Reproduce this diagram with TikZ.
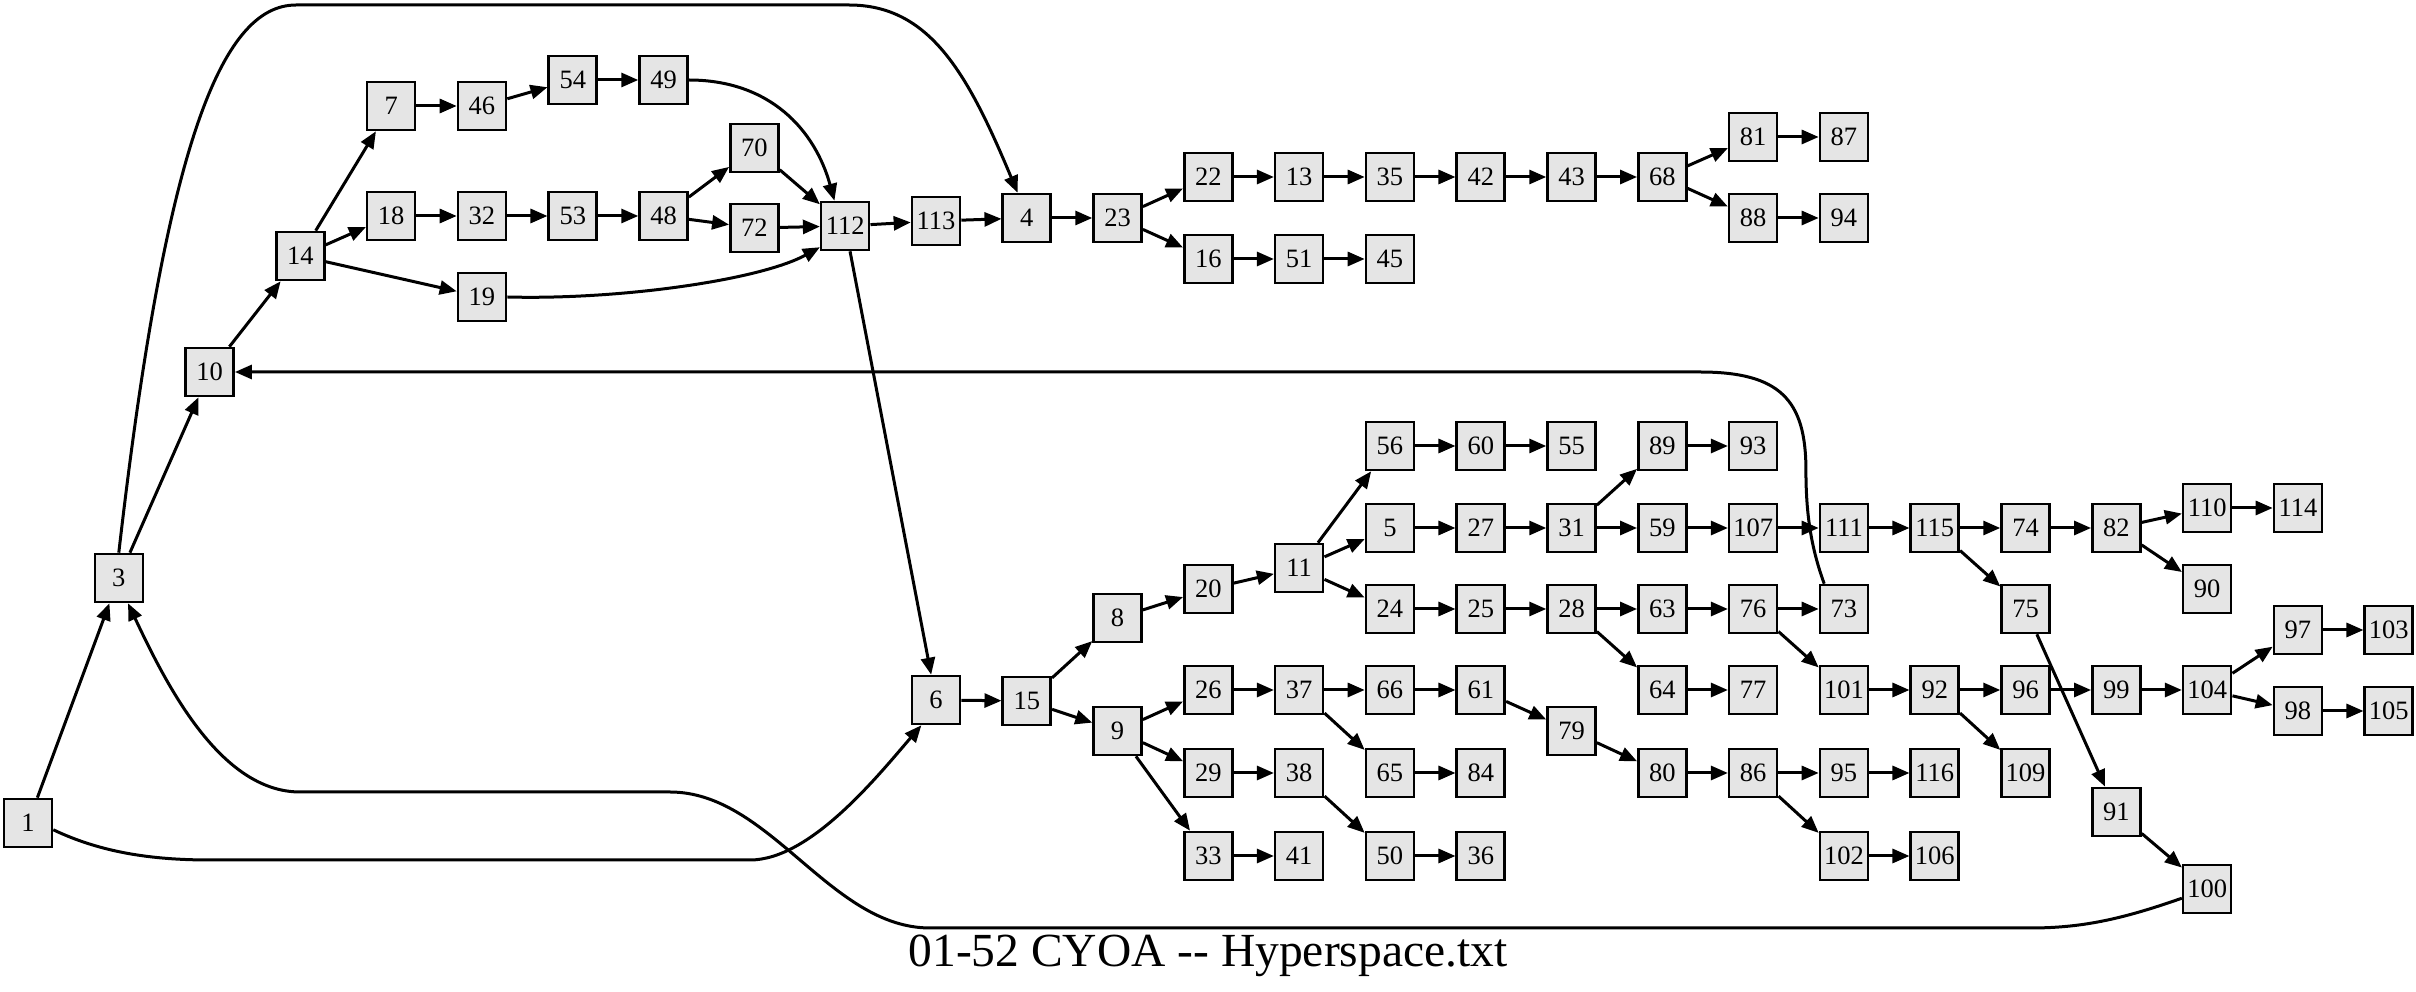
\documentclass[tikz,border=0pt]{standalone}
\usepackage{fontspec}
\setmainfont{Liberation Serif}
\usetikzlibrary{arrows.meta}
\definecolor{pgfill}{HTML}{E5E5E5}
\tikzset{
  every picture/.style={line width=3pt},
  pg/.style={draw=black, fill=pgfill, line width=2.6pt, minimum size=48pt, inner sep=0pt, font=\fontsize{26.5}{28}\selectfont},
  arrow/.style={-{Triangle[length=17pt, width=14pt]}, draw=black, line width=3pt},
  title/.style={font=\fontsize{47.5}{50}\selectfont},
}

\begin{document}
\begin{tikzpicture}[x=90.8pt, y=-1pt]
  \useasboundingbox (-0.3084,0) rectangle (26.3,992);
  \foreach \n/\r/\y in {1/0/823, 3/1/578, 10/2/372, 14/3/256, 7/4/106, 18/4/216, 46/5/106, 32/5/216, 19/5/297,
    54/6/80, 53/6/216, 49/7/80, 48/7/216, 70/8/148, 72/8/228, 112/9/226, 113/10/221, 4/11/218, 23/12/218,
    22/13/177, 16/13/259, 13/14/177, 51/14/259, 35/15/177, 45/15/259, 42/16/177, 43/17/177, 68/18/177,
    81/19/137, 88/19/218, 87/20/137, 94/20/218} {\node[pg] (p\n) at (\r,\y) {\n};}
  \foreach \n/\r/\y in {6/10/700, 15/11/701, 8/12/618, 9/12/731, 20/13/589, 26/13/690, 29/13/773, 33/13/856,
    11/14/568, 37/14/690, 38/14/773, 41/14/856, 56/15/446, 5/15/528, 24/15/609, 66/15/690, 65/15/773, 50/15/856,
    60/16/446, 27/16/528, 25/16/609, 61/16/690, 84/16/773, 36/16/856, 55/17/446, 31/17/528, 28/17/609, 79/17/731,
    89/18/446, 59/18/528, 63/18/609, 64/18/690, 80/18/773, 93/19/446, 107/19/528, 76/19/609, 77/19/690, 86/19/773,
    111/20/528, 73/20/609, 101/20/690, 95/20/773, 102/20/856, 115/21/528, 92/21/690, 116/21/773, 106/21/856,
    74/22/528, 75/22/609, 96/22/690, 109/22/773, 82/23/528, 99/23/690, 91/23/812,
    110/24/508, 90/24/589, 104/24/690, 100/24/889, 114/25/508, 97/25/630, 98/25/711, 103/26/630, 105/26/711} {\node[pg] (p\n) at (\r,\y) {\n};}
  \foreach \a/\b in {1/3, 3/10, 10/14, 14/7, 14/18, 14/19, 7/46, 46/54, 54/49, 18/32, 32/53, 53/48, 48/70, 48/72,
    70/112, 72/112, 112/113, 112/6, 113/4, 4/23, 23/22, 23/16, 22/13, 13/35, 35/42, 42/43, 43/68, 68/81, 68/88,
    81/87, 88/94, 16/51, 51/45} {\draw[arrow] (p\a) -- (p\b);}
  \foreach \a/\b in {6/15, 15/8, 15/9, 8/20, 20/11, 11/56, 11/5, 11/24, 56/60, 60/55, 5/27, 27/31, 31/89, 31/59,
    89/93, 59/107, 107/111, 111/115, 115/74, 115/75, 74/82, 82/110, 82/90, 110/114, 24/25, 25/28, 28/63, 28/64,
    63/76, 76/73, 76/101, 64/77, 101/92, 92/96, 92/109, 96/99, 99/104, 104/97, 104/98, 97/103, 98/105, 75/91, 91/100,
    9/26, 9/29, 9/33, 26/37, 37/66, 37/65, 66/61, 61/79, 79/80, 80/86, 86/95, 86/102, 95/116, 102/106, 65/84,
    29/38, 38/50, 50/36, 33/41} {\draw[arrow] (p\a) -- (p\b);}
  \draw[arrow] (p3.north) .. controls (1.509,150) and (2.115,5) .. (2.952,5) -- (9.042,5)
    .. controls (9.934,5) and (10.352,74) .. (p4.110);
  \draw[arrow] (p49.east) .. controls (8.172,80) and (8.667,130) .. (p112.113);
  \draw[arrow] (p19.east) .. controls (6.520,300) and (8.062,280) .. (p112.220);
  \draw[arrow] (p73.128) .. controls (19.626,545) and (19.581,510) .. (19.581,470)
    .. controls (19.581,400) and (19.295,372) .. (18.414,372) -- (p10.east);
  \draw[arrow] (p100.200) .. controls (23.04,920) and (22.60,928) .. (22.05,928) -- (9.934,928)
    .. controls (8.833,928) and (8.172,792) .. (7.07,792) -- (2.996,792)
    .. controls (2.115,792) and (1.520,684) .. (p3.-70);
  \draw[arrow] (p1.-15) .. controls (0.793,852) and (1.344,860) .. (2.004,860) -- (7.952,860)
    .. controls (8.612,860) and (9.350,777) .. (p6.240);
  \node[title] (ttl) at (12.996,956) {01-52 CYOA -{}- Hyperspace.txt};
\end{tikzpicture}
\end{document}
